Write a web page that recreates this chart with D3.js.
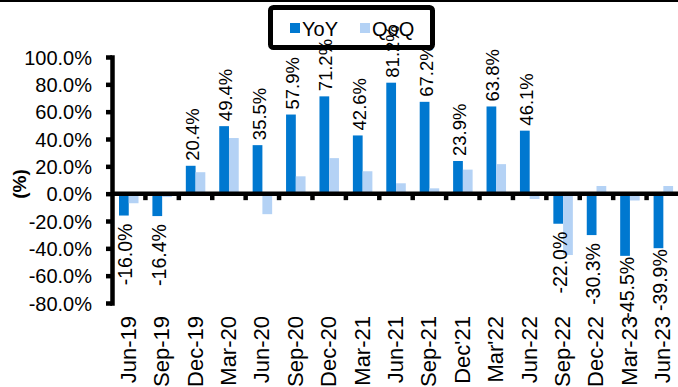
<!DOCTYPE html>
<html>
	<head>
		<meta charset="UTF-8">
		<title></title>
		<style type="text/css">
			body { margin: 0; background: #fff; }
			svg { display: block; font-family: "Liberation Sans", Arial, sans-serif; }
		</style>
	</head>
	<body>
		<svg class="chart"></svg>

		<script src="https://cdn.jsdelivr.net/npm/d3@7/dist/d3.min.js" type="text/javascript" charset="utf-8"></script>
		<script type="text/javascript">
			var categories = ["Jun-19", "Sep-19", "Dec-19", "Mar-20", "Jun-20", "Sep-20", "Dec-20", "Mar-21", "Jun-21",
				"Sep-21", "Dec'21", "Mar'22", "Jun-22", "Sep-22", "Dec-22", "Mar-23", "Jun-23"];
			var yoy = [-16.0, -16.4, 20.4, 49.4, 35.5, 57.9, 71.2, 42.6, 81.2, 67.2, 23.9, 63.8, 46.1, -22.0, -30.3, -45.5, -39.9];
			var qoq = [-7.0, -2.5, 15.7, 40.7, -15.0, 12.7, 26.0, 16.4, 7.6, 3.9, 17.6, 21.6, -3.9, -44.9, 5.6, -5.0, 5.6];
			var seriesNames = ["YoY", "QoQ"];
			var yTicks = [-80, -60, -40, -20, 0, 20, 40, 60, 80, 100];

			var colors = { YoY: "#0078d0", QoQ: "#b4d2f5" };
			var width = 678, height = 387;

			var svg = d3.select(".chart")
				.attr("width", width)
				.attr("height", height);

			var x = d3.scaleBand().domain(categories).range([112, 680]);
			var x1 = d3.scaleBand().domain(seriesNames).range([7, 26.5]);
			var y = d3.scaleLinear().domain([-80, 100]).range([303, 57]);
			var y0 = y(0);
			var labelFloor = 311; // negative labels stop above the category labels

			// top rule
			svg.append("rect").attr("x", 0).attr("y", 0).attr("width", width).attr("height", 2).attr("fill", "#000");

			var rows = categories.map(function(c, i) {
				return { cat: c, YoY: yoy[i], QoQ: qoq[i] };
			});

			// bars
			var g_bars = svg.append("g").classed("g_bars", true);
			rows.forEach(function(d) {
				seriesNames.forEach(function(s) {
					var v = d[s];
					g_bars.append("rect")
						.attr("x", x(d.cat) + x1(s))
						.attr("width", x1.bandwidth())
						.attr("y", Math.min(y(v), y0))
						.attr("height", Math.abs(y(v) - y0))
						.attr("fill", colors[s]);
				});
			});

			// y axis
			var yAxis = d3.axisLeft(y).tickValues(yTicks).tickSize(6).tickSizeOuter(0).tickPadding(14)
				.tickFormat(function(d) { return d.toFixed(1) + "%"; });
			var g_y = svg.append("g").attr("transform", "translate(112,0)").call(yAxis);
			g_y.select(".domain").attr("stroke", "#000").attr("stroke-width", 4.5).attr("stroke-linecap", "square");
			g_y.selectAll(".tick line").attr("stroke", "#000").attr("stroke-width", 4.5);
			g_y.selectAll(".tick text")
				.attr("fill", "#000")
				.attr("font-size", "20px")
				.attr("font-family", "Liberation Sans, Arial, sans-serif")
				.attr("dy", null)
				.attr("dominant-baseline", "central");

			// zero line and category ticks
			svg.append("line")
				.attr("x1", 112).attr("x2", width)
				.attr("y1", y0).attr("y2", y0)
				.attr("stroke", "#000").attr("stroke-width", 4.5);
			svg.append("g").selectAll("line")
				.data(categories.slice(1))
				.enter().append("line")
				.attr("x1", function(d) { return x(d); })
				.attr("x2", function(d) { return x(d); })
				.attr("y1", y0)
				.attr("y2", y0 + 6.5)
				.attr("stroke", "#000").attr("stroke-width", 4.5);

			// category labels
			svg.append("g").selectAll("text")
				.data(categories)
				.enter().append("text")
				.attr("transform", function(d) {
					return "translate(" + (x(d) + x.bandwidth() / 2 - 0.5) + ",316) rotate(-90)";
				})
				.attr("text-anchor", "end")
				.attr("dominant-baseline", "central")
				.attr("font-size", "22px")
				.attr("fill", "#000")
				.text(function(d) { return d; });

			// y title
			svg.append("text")
				.attr("transform", "translate(19,184) rotate(-90)")
				.attr("text-anchor", "middle")
				.attr("dominant-baseline", "central")
				.attr("font-size", "19px")
				.attr("font-weight", "bold")
				.text("(%)");

			// legend
			var g_leg = svg.append("g").classed("g_legend", true);
			g_leg.append("rect")
				.attr("x", 270.5).attr("y", 7.5).attr("width", 162).attr("height", 40).attr("rx", 3)
				.attr("fill", "#fff").attr("stroke", "#000").attr("stroke-width", 5);
			seriesNames.forEach(function(s, i) {
				var lx = 290 + i * 70;
				g_leg.append("rect").attr("x", lx).attr("y", 23).attr("width", 10).attr("height", 10).attr("fill", colors[s]);
				g_leg.append("text")
					.attr("x", lx + 12).attr("y", 28.5)
					.attr("dominant-baseline", "central")
					.attr("font-size", "20px")
					.text(s);
			});

			// data labels (YoY)
			var labels = svg.append("g").selectAll("text")
				.data(rows)
				.enter().append("text")
				.attr("text-anchor", "end")
				.attr("dominant-baseline", "central")
				.attr("font-size", function(d) { return d.YoY >= 0 ? "18.5px" : "19.5px"; })
				.attr("fill", "#000")
				.text(function(d) { return d.YoY.toFixed(1) + "%"; });

			labels.attr("transform", function(d) {
				var len = this.getComputedTextLength();
				var cx = x(d.cat) + x1("YoY") + x1.bandwidth() / 2 + 1.5;
				var top;
				if(d.YoY >= 0) {
					top = y(d.YoY) - 5 - len;
				} else {
					top = y(d.YoY) + 8;
					if(top + len > labelFloor) {
						top = Math.max(y(d.YoY) + 1, labelFloor - len);
					}
				}
				return "translate(" + cx + "," + top + ") rotate(-90)";
			});
		</script>
	</body>
</html>
